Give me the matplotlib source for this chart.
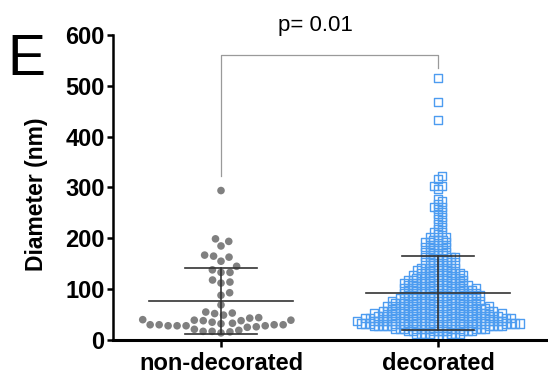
import numpy as np
import matplotlib
matplotlib.use("Agg")
import matplotlib.pyplot as plt

plt.rcParams['font.family'] = ['Liberation Sans', 'DejaVu Sans']

categories = ["non-decorated", "decorated"]

# diameters (nm)
non_decorated = [294, 199, 194, 185, 167, 165, 163, 155, 145, 138, 133, 133,
                 118, 114, 112, 93, 88, 69, 55, 53, 52, 49, 44, 43, 40, 39,
                 39, 38, 38, 35, 33, 32, 30, 30, 30, 30, 28, 28, 28, 28, 26,
                 25, 21, 19, 17, 17, 16, 14]

# decorated: diameter rows (nm) and how many particles sit on each row
dec_diam = [7.5, 12.5, 17.5, 22.5, 27.5, 32.5, 37.5, 42.5, 47.5, 52.5,
            57.5, 62.5, 67.5, 72.5, 77.5, 82.5, 87.5, 92.5, 97.5, 102.5,
            107.5, 112.5, 117.5, 122.5, 127.5, 132.5, 137.5, 142.5, 147.5, 152.5,
            157.5, 162.5, 167.5, 172.5, 177.5, 182.5, 187.5, 192.5, 197.5, 202.5,
            207.5, 212.5, 217.5, 222.5, 227.5, 232.5, 237.5, 242.5, 247.5, 252.5,
            257.5, 262.5, 267.5, 272.5, 277.5, 297.5, 302.5, 317.5, 322.5,
            433, 468, 515]
dec_count = [4, 7, 9, 13, 18, 20, 19, 17, 16, 15,
             14, 13, 12, 11, 11, 10, 10, 9, 9, 9,
             8, 8, 7, 7, 6, 6, 5, 5, 4, 4,
             4, 4, 3, 3, 3, 3, 3, 3, 3, 2,
             1, 2, 1, 1, 1, 1, 1, 1, 1, 1,
             1, 2, 1, 1, 1, 1, 2, 1, 1,
             1, 1, 1]
decorated = np.repeat(dec_diam, dec_count)

p_text = "p= 0.01"

PX_PER_NM = 305 / 600.0
PX_PER_CAT = 217.0


def swarm(vals, d):
    # simple beeswarm in pixel space, returns x offsets in category units
    ys = np.asarray(vals, dtype=float) * PX_PER_NM
    xs = np.zeros(len(ys))
    placed = []
    for i in np.argsort(ys, kind="stable"):
        y = ys[i]
        near = [j for j in placed if abs(ys[j] - y) < d]
        cands = [0.0]
        for j in near:
            dx = np.sqrt(d * d - (ys[j] - y) ** 2)
            cands += [xs[j] + dx, xs[j] - dx]
        cands.sort(key=abs)
        for c in cands:
            if all((xs[j] - c) ** 2 + (ys[j] - y) ** 2 >= d * d - 1e-6 for j in near):
                xs[i] = c
                break
        placed.append(i)
    return xs / PX_PER_CAT


fig = plt.figure(figsize=(5.48, 3.78), dpi=100)
ax = fig.add_axes([113 / 548, 38 / 378, 435 / 548, 305 / 378])

nd_x = 0 + swarm(non_decorated, 9.0)
ax.scatter(nd_x, non_decorated, s=30, color="#808080", edgecolors="none", zorder=2)

dec_x = 1 + swarm(decorated, 4.5)
ax.scatter(dec_x, decorated, s=34, marker="s", facecolors="none",
           edgecolors="#4d9cf0", linewidths=1.0, zorder=2)

# mean and SD bars
for pos, vals in [(0, non_decorated), (1, decorated)]:
    m = np.mean(vals)
    sd = np.std(vals, ddof=1)
    ax.plot([pos - 0.33, pos + 0.33], [m, m], color="#333333", lw=1.2, zorder=3)
    ax.plot([pos - 0.165, pos + 0.165], [m + sd, m + sd], color="#333333", lw=1.2, zorder=3)
    ax.plot([pos - 0.165, pos + 0.165], [m - sd, m - sd], color="#333333", lw=1.2, zorder=3)
    ax.plot([pos, pos], [m - sd, m + sd], color="#333333", lw=1.2, zorder=3)

# significance bracket
ax.plot([0, 0, 1, 1], [322, 561, 561, 535], color="#9a9a9a", lw=0.9, zorder=1)
ax.text(0.433, 618, p_text, ha="center", va="center", fontsize=16, clip_on=False)

ax.set_xlim(-108 / PX_PER_CAT, 1 + 110 / PX_PER_CAT)
ax.set_ylim(0, 600)
ax.set_yticks([0, 100, 200, 300, 400, 500, 600])
ax.set_xticks([0, 1])
ax.set_xticklabels(categories)
for lab in ax.get_xticklabels() + ax.get_yticklabels():
    lab.set_fontweight("bold")
ax.tick_params(axis="y", labelsize=17, length=4, width=1.8, pad=2)
ax.tick_params(axis="x", labelsize=17, length=5, width=1.8, pad=4)
ax.spines["top"].set_visible(False)
ax.spines["right"].set_visible(False)
ax.spines["left"].set_linewidth(1.8)
ax.spines["bottom"].set_linewidth(2.2)

fig.text(37 / 548, 1 - 194 / 378, "Diameter (nm)", rotation=90, ha="center",
         va="center", fontsize=16.5, fontweight="bold")
fig.text(7 / 548, 1 - 75 / 378, "E", fontsize=41, va="baseline")

fig.savefig("out.png", dpi=100)
